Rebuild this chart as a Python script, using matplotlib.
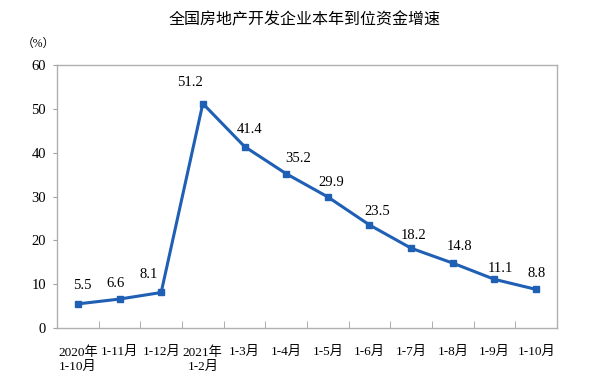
import matplotlib
matplotlib.use("Agg")
import matplotlib.pyplot as plt
import numpy as np

categories = ["2020年\n1-10月", "1-11月", "1-12月", "2021年\n1-2月", "1-3月", "1-4月",
              "1-5月", "1-6月", "1-7月", "1-8月", "1-9月", "1-10月"]
values = [5.5, 6.6, 8.1, 51.2, 41.4, 35.2, 29.9, 23.5, 18.2, 14.8, 11.1, 8.8]
yticks = [0, 10, 20, 30, 40, 50, 60]
# label offsets in pixels (dx, dy) relative to the point
label_offsets = [(4, 18), (-4, 16), (-12, 18), (-13, 21), (5, 17), (12, 15),
                 (3, 14), (8, 13), (2, 13), (7, 17), (6, 11), (0, 16)]

fonts = ["Liberation Serif", "Noto Sans CJK SC"]
plt.rcParams["font.family"] = fonts

fig = plt.figure(figsize=(6.1, 3.91), dpi=100)
ax = fig.add_axes([57/610, 1-328/391, (557-57)/610, (328-65)/391])

x = np.arange(len(values))
ax.plot(x, values, color="#1f5fb4", lw=2.2, marker="s", ms=4.5, zorder=3)
for xi, v, (dx, dy) in zip(x, values, label_offsets):
    ax.annotate(f"{v}", (xi, v), xytext=(dx * 0.72, dy * 0.72), textcoords="offset points",
                ha="center", va="center", fontsize=10.5, family=fonts)

ax.set_xlim(-0.5, len(values) - 0.5)
ax.set_ylim(0, 60)
ax.set_yticks(yticks)
ax.set_yticklabels([str(t) for t in yticks], fontsize=10.5)
ax.set_xticks(x)
ax.set_xticklabels(categories, fontsize=9.5, linespacing=1.25)
ax.tick_params(axis="x", length=0, pad=13)
ax.set_xticks(np.arange(0.5, len(values) - 0.5, 1), minor=True)
ax.tick_params(axis="x", which="minor", direction="in", length=5, color="#a0a0a0")
ax.tick_params(axis="y", direction="out", length=3, color="#a0a0a0", pad=5)
for s in ax.spines.values():
    s.set_color("#b0b0b0")
    s.set_linewidth(1.0)

fig.text(0.5, 1-20/391, "全国房地产开发企业本年到位资金增速", ha="center", va="center",
         fontsize=11.5, family=["Noto Sans CJK SC"])
fig.text(38/610, 1-44/391, "（%）", ha="center", va="center", fontsize=8.5, family=fonts)

fig.savefig("out.png", dpi=100)
